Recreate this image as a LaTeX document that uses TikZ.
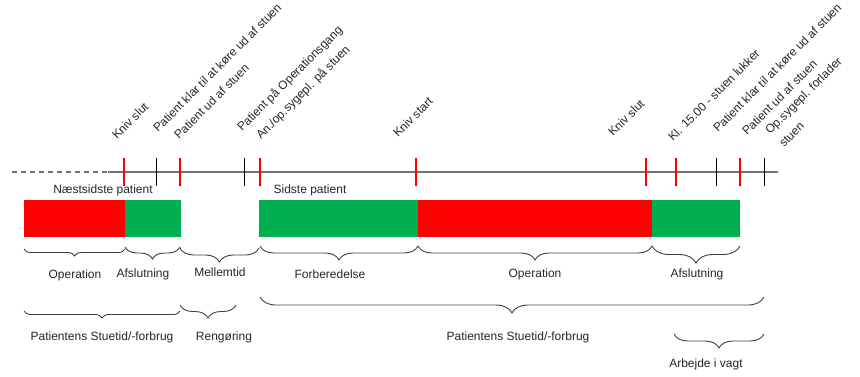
\documentclass[tikz,border=0pt]{standalone}
\usepackage{fontspec}
\setmainfont{Liberation Sans}
\usetikzlibrary{decorations.pathreplacing}
\definecolor{barred}{RGB}{255,0,0}
\definecolor{bargreen}{RGB}{0,176,80}
\definecolor{txt}{RGB}{38,38,38}
\begin{document}
\begin{tikzpicture}[x=1pt,y=-1pt,
  lbl/.style={font=\fontsize{12}{14}\selectfont, text=txt, inner sep=0},
  rlbl/.style={lbl, rotate=45, anchor=base west},
  redtick/.style={fill=barred, minimum width=2.6pt, minimum height=28pt, inner sep=0, draw=none, rectangle},
  blacktick/.style={fill=black, minimum width=1pt, minimum height=28pt, inner sep=0, draw=none, rectangle},
  axis/.style={draw=black!55, line width=1.6pt},
  brc/.style={draw=black!75, line width=0.9pt, decorate, decoration={brace, mirror, amplitude=#1}},
]
\useasboundingbox (0,0) rectangle (860,376);
% timeline
\draw[axis, dash pattern=on 5pt off 4pt] (12,172) -- (108,172);
\draw[axis] (108,172) -- (778,172);
% ticks
\node[redtick] (t1) at (124,171.5) {};
\node[blacktick] (t2) at (156,171.5) {};
\node[redtick] (t3) at (180,171.5) {};
\node[blacktick] (t4) at (244,171.5) {};
\node[redtick] (t5) at (260,171.5) {};
\node[redtick] (t6) at (416,171.5) {};
\node[redtick] (t7) at (646,171.5) {};
\node[redtick] (t8) at (676,171.5) {};
\node[blacktick] (t9) at (716,171.5) {};
\node[redtick] (t10) at (740,171.5) {};
\node[blacktick] (t11) at (764,171.5) {};
% rotated labels
\node[rlbl] (l1) at (117,140) {Kniv slut};
\node[rlbl] (l2) at (158,133) {Patient klar til at køre ud af stuen};
\node[rlbl] (l3) at (179,140) {Patient ud af stuen};
\node[rlbl] (l4) at (242,132) {Patient på Operationsgang};
\node[rlbl] (l5) at (261,140) {An./op.sygepl. på stuen};
\node[rlbl] (l6) at (398,138) {Kniv start};
\node[rlbl] (l7) at (613,137) {Kniv slut};
\node[rlbl] (l8) at (673,142) {Kl. 15.00 - stuen lukker};
\node[rlbl] (l9) at (718,133) {Patient klar til at køre ud af stuen};
\node[rlbl] (l10) at (747,136) {Patient ud af stuen};
\node[rlbl] (l11) at (770,135) {Op.sygepl. forlader};
\node[rlbl] (l12) at (784,148) {stuen};
% patient titles
\node[lbl] (p1) at (103,190) {Næstsidste patient};
\node[lbl] (p2) at (310,190) {Sidste patient};
% bars
\fill[barred] (24,200) rectangle (125,237);
\fill[bargreen] (125,200) rectangle (181,237);
\fill[bargreen] (259,200) rectangle (418,237);
\fill[barred] (418,200) rectangle (652,237);
\fill[bargreen] (652,200) rectangle (740,237);
% braces row 1
\draw[brc=7] (24,249) -- (125,249);
\draw[brc=12] (125,247) -- (180,247);
\draw[brc=14] (180,248) -- (259,248);
\draw[brc=14] (260,246) -- (418,246);
\draw[brc=14] (418,246) -- (652,246);
\draw[brc=17] (652,246) -- (740,246);
\node[lbl] (b1) at (75,275) {Operation};
\node[lbl] (b2) at (143,274) {Afslutning};
\node[lbl] (b3) at (220,272) {Mellemtid};
\node[lbl] (b4) at (330,274) {Forberedelse};
\node[lbl] (b5) at (535,274) {Operation};
\node[lbl] (b6) at (697,274) {Afslutning};
% braces row 2
\draw[brc=7] (24,311) -- (180,311);
\draw[brc=13] (180,305) -- (236,305);
\draw[brc=16] (260,297) -- (764,297);
\draw[brc=14] (674,334) -- (764,334);
\node[lbl] (c1) at (102,337) {Patientens Stuetid/-forbrug};
\node[lbl] (c2) at (224,337) {Rengøring};
\node[lbl] (c3) at (518,337) {Patientens Stuetid/-forbrug};
\node[lbl] (c4) at (706,364) {Arbejde i vagt};
\end{tikzpicture}
\end{document}
